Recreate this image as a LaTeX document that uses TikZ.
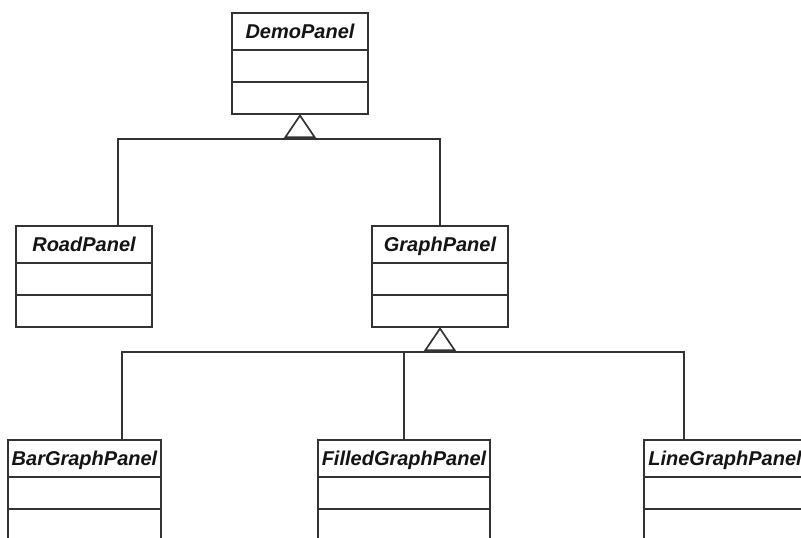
\documentclass[tikz,border=0pt]{standalone}
\usepackage{fontspec}
\setmainfont{Liberation Sans}
\usetikzlibrary{arrows.meta}

\tikzset{
  umlline/.style={line width=1.7pt, draw=black!80},
  classtitle/.style={umlline, rectangle, inner sep=0pt, outer sep=0pt,
    minimum height=37pt, anchor=north west,
    font=\fontsize{20}{24}\selectfont\bfseries\itshape,
    text height=14.5pt, text depth=0pt, text=black!92},
  classpart/.style={umlline, rectangle, inner sep=0pt, outer sep=0pt,
    minimum height=32pt, anchor=north},
  inherit/.style={umlline, -{Triangle[open, length=24pt, width=32pt, line width=1.7pt]}},
  wire/.style={umlline}
}

% one UML class: title box plus two empty compartments
\newcommand{\umlclass}[5]{%
  \node[classtitle, minimum width=#4pt] (#1) at (#2,#3) {#5};
  \node[classpart, minimum width=#4pt] (#1-attr) at (#1.south) {};
  \node[classpart, minimum width=#4pt] (#1-ops) at (#1-attr.south) {};
}

\begin{document}
\begin{tikzpicture}[x=1pt, y=-1pt]
  \useasboundingbox[fill=white] (0,0) rectangle (801,538);

  \umlclass{demo}{232}{13}{136}{DemoPanel}
  \umlclass{road}{16}{226}{136}{RoadPanel}
  \umlclass{graph}{372}{226}{136}{GraphPanel}
  \umlclass{bar}{8}{440}{153}{BarGraphPanel}
  \umlclass{filled}{318}{440}{172}{FilledGraphPanel}
  \umlclass{line}{644}{440}{162}{LineGraphPanel}

  % junction points of the inheritance trees
  \coordinate (demojoin) at (demo-ops.south |- 0,139);
  \coordinate (roadtop) at (118,226);
  \coordinate (graphjoin) at (graph-ops.south |- 0,352);
  \coordinate (bartop) at (122,440);
  \coordinate (linetop) at (684,440);

  % DemoPanel subclasses
  \draw[wire] (roadtop) |- (demojoin) -| (graph.north);
  \draw[inherit] (demojoin) -- (demo-ops.south);

  % GraphPanel subclasses
  \draw[wire] (bartop) |- (graphjoin) -| (linetop);
  \draw[wire] (filled.north) -- (filled.north |- graphjoin);
  \draw[inherit] (graphjoin) -- (graph-ops.south);
\end{tikzpicture}
\end{document}
